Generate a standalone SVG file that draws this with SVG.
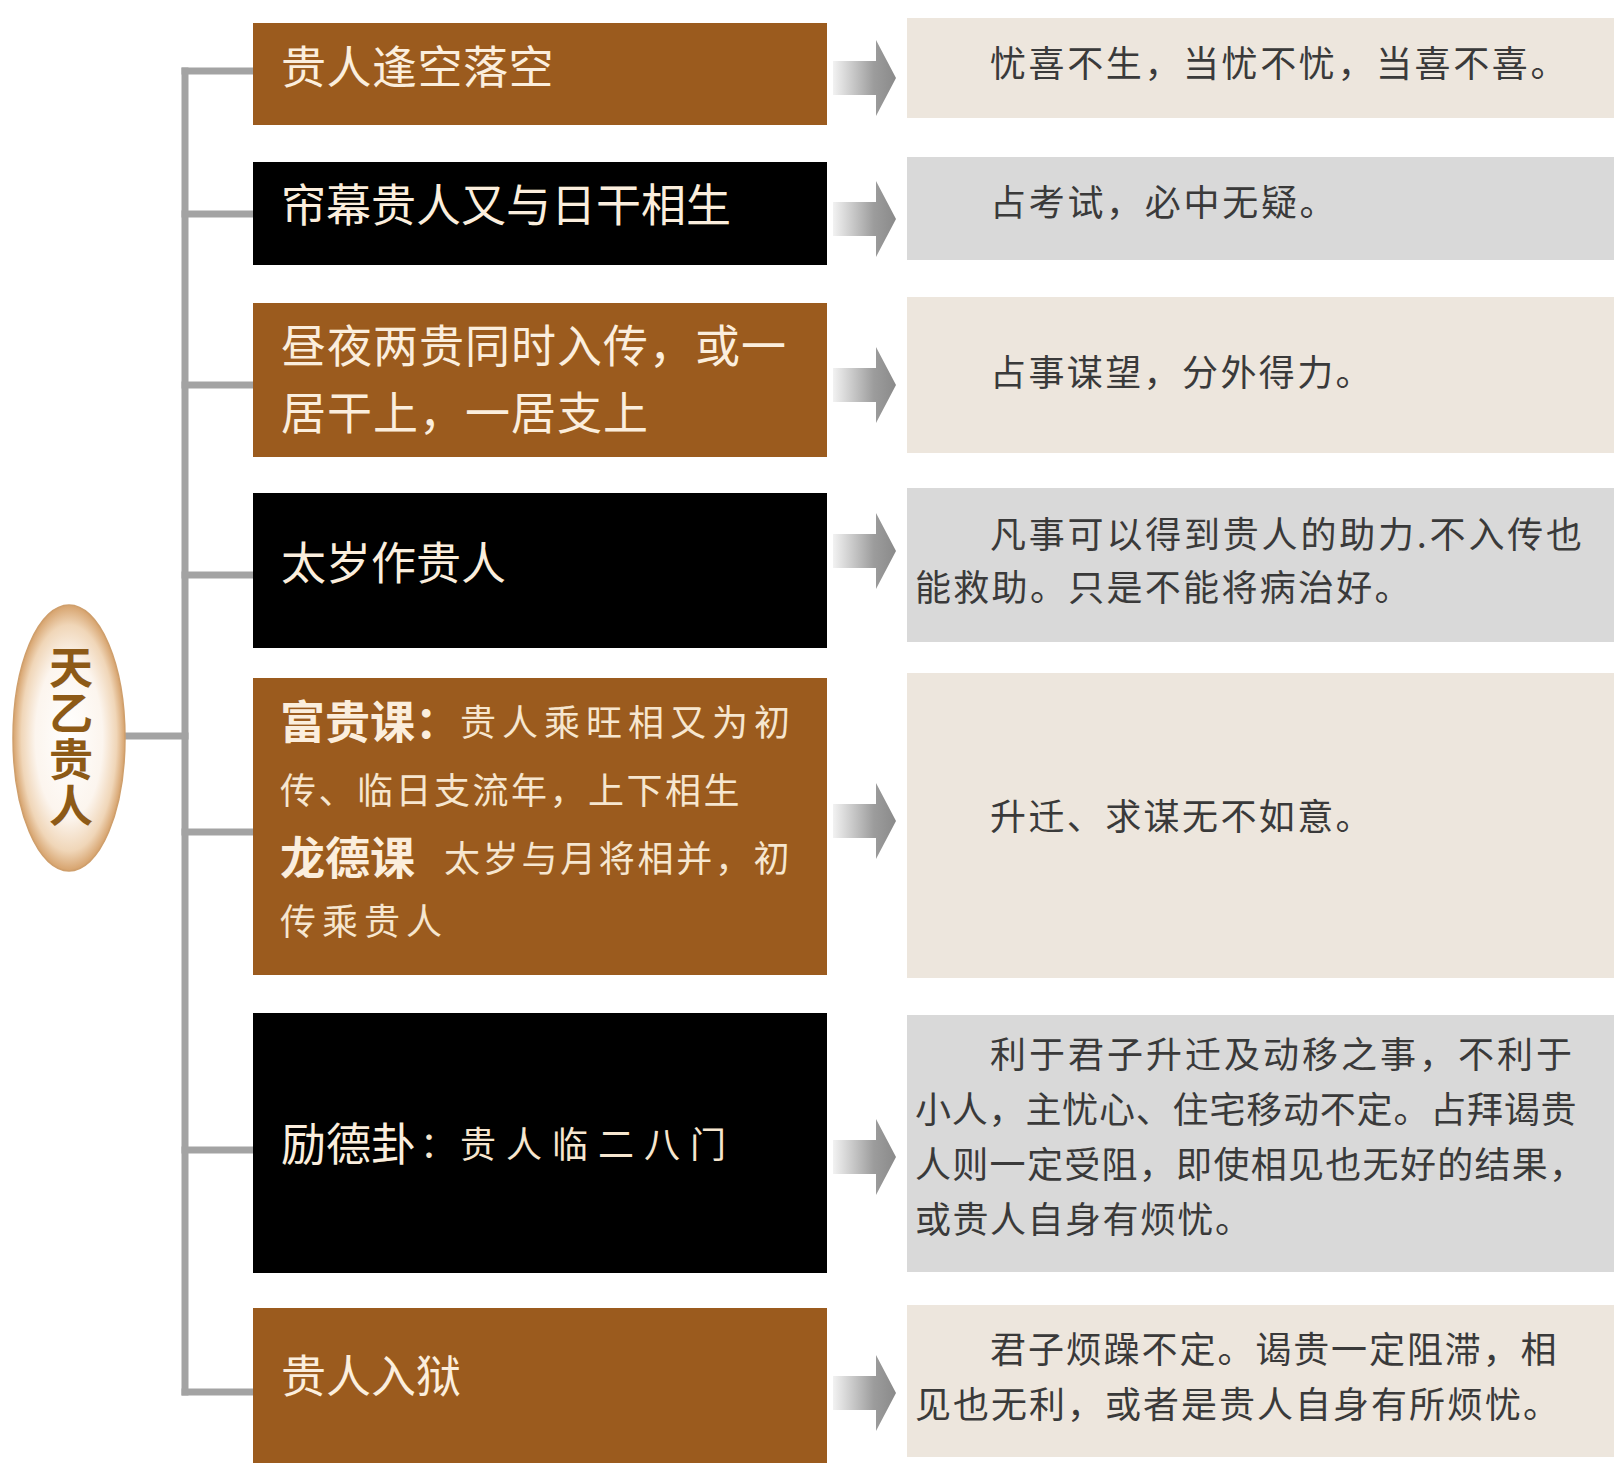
<svg xmlns="http://www.w3.org/2000/svg" width="1620" height="1473" viewBox="0 0 1620 1473">
<style>
.bb{fill:#9b5b1e}
.bk{fill:#000}
.rb{fill:#ede6dd}
.rg{fill:#d9d9d9}
.lt{font-family:"Noto Sans CJK SC","Noto Sans CJK JP",sans-serif;font-size:45px;fill:#fbeedd}
.st{font-family:"Noto Sans CJK SC","Noto Sans CJK JP",sans-serif;font-size:36px;fill:#f6e6cf}
.rt{font-family:"Noto Sans CJK SC","Noto Sans CJK JP",sans-serif;font-size:36px;fill:#3a3a3a}
.ln{stroke:#a3a3a3;stroke-width:7;fill:none;stroke-linecap:square}
</style>
<defs>
<radialGradient id="eg" cx="0.5" cy="0.5" r="0.5">
<stop offset="0" stop-color="#ffffff"/>
<stop offset="0.6" stop-color="#fcf5ee"/>
<stop offset="0.85" stop-color="#f0d6b8"/>
<stop offset="1" stop-color="#d6a26c"/>
</radialGradient>
<linearGradient id="ag" x1="0" y1="0" x2="1" y2="0">
<stop offset="0" stop-color="#f2f2f2"/>
<stop offset="0.65" stop-color="#9c9c9c"/>
<stop offset="1" stop-color="#8a8a8a"/>
</linearGradient>
<path id="arr" d="M833,-17 L876,-17 L876,-38 L896,0 L876,38 L876,17 L833,17 Z" fill="url(#ag)"/>
</defs>

<g id="connectors">
<line class="ln" x1="185" y1="71" x2="185" y2="1392"/>
<line class="ln" x1="185" y1="71" x2="253" y2="71"/>
<line class="ln" x1="185" y1="214" x2="253" y2="214"/>
<line class="ln" x1="185" y1="385" x2="253" y2="385"/>
<line class="ln" x1="185" y1="575" x2="253" y2="575"/>
<line class="ln" x1="185" y1="832" x2="253" y2="832"/>
<line class="ln" x1="185" y1="1150" x2="253" y2="1150"/>
<line class="ln" x1="185" y1="1392" x2="253" y2="1392"/>
<line class="ln" x1="125" y1="736" x2="185" y2="736"/>
<use href="#arr" y="78"/>
<use href="#arr" y="219"/>
<use href="#arr" y="385"/>
<use href="#arr" y="551"/>
<use href="#arr" y="821"/>
<use href="#arr" y="1157"/>
<use href="#arr" y="1393"/>
</g>

<g id="root">
<ellipse cx="69" cy="738" rx="56" ry="133" fill="url(#eg)" stroke="#cf9f6c" stroke-width="1.5"/>
<text x="71" y="737" writing-mode="vertical-rl" text-anchor="middle" letter-spacing="2" font-family="'Noto Sans CJK SC',sans-serif" font-size="44" fill="#8d5a17" font-weight="bold">天乙贵人</text>
</g>

<g id="n1"><rect class="bb" x="253" y="23" width="574" height="102"/><text class="lt" x="281" y="84" letter-spacing="0.5">贵人逢空落空</text></g>
<g id="n2"><rect class="bk" x="253" y="162" width="574" height="103"/><text class="lt" x="281" y="222">帘幕贵人又与日干相生</text></g>
<g id="n3"><rect class="bb" x="253" y="303" width="574" height="154"/><text class="lt" x="281" y="363" letter-spacing="1">昼夜两贵同时入传，或一</text><text class="lt" x="281" y="430" letter-spacing="1">居干上，一居支上</text></g>
<g id="n4"><rect class="bk" x="253" y="493" width="574" height="155"/><text class="lt" x="281" y="580">太岁作贵人</text></g>
<g id="n5"><rect class="bb" x="253" y="678" width="574" height="297"/>
<text class="lt" x="280" y="739" font-weight="bold">富贵课：</text>
<text class="st" x="460" y="736" letter-spacing="6">贵人乘旺相又为初</text>
<text class="st" x="280" y="804" letter-spacing="2.5">传、临日支流年，上下相生</text>
<text class="lt" x="280" y="875" font-weight="bold">龙德课</text>
<text class="st" x="444" y="872" letter-spacing="2.7">太岁与月将相并，初</text>
<text class="st" x="280" y="935" letter-spacing="6">传乘贵人</text>
</g>
<g id="n6"><rect class="bk" x="253" y="1013" width="574" height="260"/><text class="lt" x="281" y="1161">励德卦</text><text class="st" x="420" y="1158">：</text><text class="st" x="460" y="1158" letter-spacing="10">贵人临二八门</text></g>
<g id="n7"><rect class="bb" x="253" y="1308" width="574" height="155"/><text class="lt" x="281" y="1393">贵人入狱</text></g>

<g id="r1"><rect class="rb" x="907" y="18" width="707" height="100"/><text class="rt" x="990" y="77" letter-spacing="2.6">忧喜不生，当忧不忧，当喜不喜。</text></g>
<g id="r2"><rect class="rg" x="907" y="157" width="707" height="103"/><text class="rt" x="990" y="216" letter-spacing="2.7">占考试，必中无疑。</text></g>
<g id="r3"><rect class="rb" x="907" y="297" width="707" height="156"/><text class="rt" x="990" y="386" letter-spacing="2.4">占事谋望，分外得力。</text></g>
<g id="r4"><rect class="rg" x="907" y="488" width="707" height="154"/><text class="rt" x="990" y="548" letter-spacing="2.8">凡事可以得到贵人的助力.不入传也</text><text class="rt" x="915" y="601" letter-spacing="2.3">能救助。只是不能将病治好。</text></g>
<g id="r5"><rect class="rb" x="907" y="673" width="707" height="305"/><text class="rt" x="990" y="830" letter-spacing="2.4">升迁、求谋无不如意。</text></g>
<g id="r6"><rect class="rg" x="907" y="1015" width="707" height="257"/>
<text class="rt" x="990" y="1068" letter-spacing="3">利于君子升迁及动移之事，不利于</text>
<text class="rt" x="915" y="1123" letter-spacing="0.8">小人，主忧心、住宅移动不定。占拜谒贵</text>
<text class="rt" x="915" y="1178" letter-spacing="1.3">人则一定受阻，即使相见也无好的结果，</text>
<text class="rt" x="915" y="1233" letter-spacing="1.5">或贵人自身有烦忧。</text>
</g>
<g id="r7"><rect class="rb" x="907" y="1305" width="707" height="152"/>
<text class="rt" x="990" y="1363" letter-spacing="1.9">君子烦躁不定。谒贵一定阻滞，相</text>
<text class="rt" x="915" y="1418" letter-spacing="2">见也无利，或者是贵人自身有所烦忧。</text>
</g>
</svg>
